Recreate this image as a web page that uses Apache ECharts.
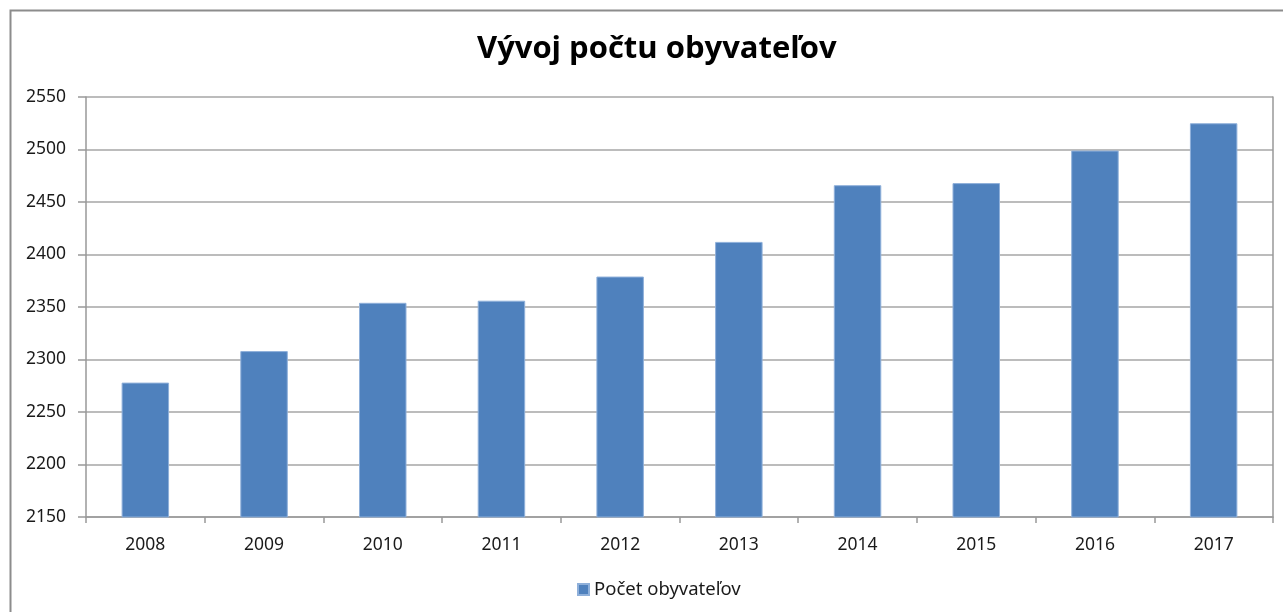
<!DOCTYPE html>
<html lang="sk">
<head>
    <meta charset="UTF-8">
    <title>Vývoj počtu obyvateľov</title>
    <script src="https://cdn.jsdelivr.net/npm/echarts@6/dist/echarts.min.js"></script>
</head>
<body style="margin:0">
    <div id="main" style="width:1283px;height:612px;"></div>
    <script>
        // data
        var years = ['2008', '2009', '2010', '2011', '2012', '2013', '2014', '2015', '2016', '2017'];
        var population = [2278, 2308, 2354, 2356, 2379, 2412, 2466, 2468, 2499, 2525];
        var seriesName = 'Počet obyvateľov';

        var chart = echarts.init(document.getElementById('main'));
        var labelFont = { fontFamily: 'Noto Sans', fontSize: 17.5, color: '#1a1a1a' };

        chart.setOption({
            backgroundColor: '#fff',
            animation: false,
            // chart area runs past the right edge, so title/legend sit a bit right of centre
            title: {
                text: 'Vývoj počtu obyvateľov',
                left: 472,
                top: 29,
                textStyle: { fontFamily: 'Open Sans', fontWeight: 'bold', fontSize: 31, color: '#000' }
            },
            // outer frame of the chart (top and left edges visible)
            graphic: [{
                type: 'polyline',
                shape: { points: [[10.5, 612], [10.5, 10.5], [1283, 10.5]] },
                style: { stroke: '#8c8c8c', lineWidth: 2, fill: null }
            }],
            legend: {
                bottom: 8,
                left: 572,
                itemWidth: 11,
                itemHeight: 11,
                itemGap: 5,
                icon: 'rect',
                textStyle: Object.assign({}, labelFont, { fontSize: 18.5 }),
                data: [seriesName]
            },
            grid: { left: 86, right: 10, top: 97, bottom: 95 },
            xAxis: {
                type: 'category',
                data: years,
                axisLine: { lineStyle: { color: '#999', width: 1.5 } },
                axisTick: { show: true, length: 6, lineStyle: { color: '#999', width: 1.5 } },
                axisLabel: Object.assign({ margin: 19 }, labelFont)
            },
            yAxis: [{
                type: 'value',
                min: 2150,
                max: 2550,
                interval: 50,
                axisLine: { show: true, lineStyle: { color: '#999', width: 1.5 } },
                axisTick: { show: true, length: 8, lineStyle: { color: '#999', width: 1.5 } },
                splitLine: { lineStyle: { color: '#a6a6a6', width: 1.5 } },
                axisLabel: Object.assign({ margin: 20, formatter: function (v) { return String(v); } }, labelFont)
            }, {
                type: 'value',
                position: 'right',
                min: 2150,
                max: 2550,
                interval: 50,
                axisLine: { show: true, lineStyle: { color: '#999', width: 1.5 } },
                axisTick: { show: false },
                axisLabel: { show: false },
                splitLine: { show: false }
            }],
            series: [{
                name: seriesName,
                type: 'bar',
                data: population,
                barCategoryGap: '60%',
                itemStyle: { color: '#4f81bd', borderColor: '#8fb0da', borderWidth: 1 }
            }]
        });
    </script>
</body>
</html>
